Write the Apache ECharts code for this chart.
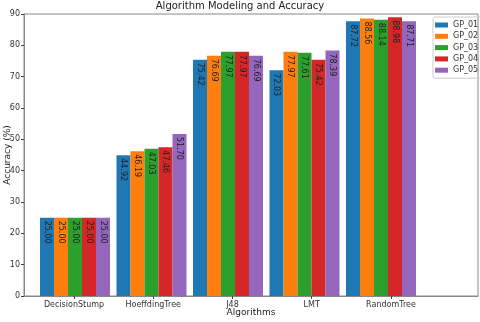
<!DOCTYPE html>
<html>
<head>
<meta charset="utf-8">
<script src="https://cdn.jsdelivr.net/npm/echarts@6/dist/echarts.min.js"></script>
<style>
  html, body { margin: 0; padding: 0; background: #fff; }
  #chart { width: 480px; height: 322px; }
</style>
</head>
<body>
<div id="chart"></div>
<script>
const algorithms = ['DecisionStump', 'HoeffdingTree', 'J48', 'LMT', 'RandomTree']
const gpNames = ['GP_01', 'GP_02', 'GP_03', 'GP_04', 'GP_05']
const gpColors = ['#1f77b4', '#ff7f0e', '#2ca02c', '#d62728', '#9467bd']
// one array per group, values follow algorithms order
const gp01 = [25.00, 44.92, 75.42, 72.03, 87.72]
const gp02 = [25.00, 46.19, 76.69, 77.97, 88.56]
const gp03 = [25.00, 47.03, 77.97, 77.61, 88.14]
const gp04 = [25.00, 47.46, 77.97, 75.42, 88.98]
const gp05 = [25.00, 51.70, 76.69, 78.39, 87.71]
const yTicks = [0, 10, 20, 30, 40, 50, 60, 70, 80, 90]

const font = 'DejaVu Sans'
const groups = [gp01, gp02, gp03, gp04, gp05]

const chart = echarts.init(document.getElementById('chart'))

const series = groups.map((vals, i) => ({
  name: gpNames[i],
  type: 'bar',
  xAxisIndex: 1,
  yAxisIndex: 1,
  barWidth: 14,
  barGap: '0%',
  itemStyle: { color: gpColors[i] },
  label: {
    show: true,
    position: 'insideTop',
    rotate: -90,
    align: 'left',
    verticalAlign: 'middle',
    distance: 3,
    fontSize: 8,
    fontFamily: font,
    color: '#222',
    formatter: p => p.value.toFixed(2)
  },
  data: vals
}))

const option = {
  backgroundColor: '#fff',
  animation: false,
  title: {
    text: 'Algorithm Modeling and Accuracy',
    left: 'center',
    top: 1,
    padding: 0,
    textStyle: { fontSize: 10, fontWeight: 'normal', color: '#222', fontFamily: font }
  },
  legend: {
    data: gpNames,
    orient: 'vertical',
    left: 433,
    top: 17,
    icon: 'rect',
    itemWidth: 13,
    itemHeight: 5,
    itemGap: 1.3,
    padding: [3, 3, 3, 2],
    borderColor: '#ccc',
    borderWidth: 1,
    borderRadius: 2,
    textStyle: { fontSize: 8, lineHeight: 10, color: '#333', fontFamily: font }
  },
  grid: [
    // frame, y axis and x tick labels
    { left: 24, right: 2, top: 14, bottom: 26, containLabel: false, outerBoundsMode: 'none', show: true, borderColor: '#888', borderWidth: 1, backgroundColor: 'transparent' },
    // bars
    { left: 36.75, right: 60.75, top: 14, bottom: 26, containLabel: false, outerBoundsMode: 'none' }
  ],
  xAxis: [
    {
      gridIndex: 0,
      type: 'value',
      min: -0.631,
      max: 5.098,
      name: 'Algorithms',
      nameLocation: 'middle',
      nameGap: 12,
      nameMoveOverlap: false,
      nameTextStyle: { fontSize: 9, color: '#222', fontFamily: font },
      axisLine: { show: true, onZero: false, lineStyle: { color: '#888' } },
      axisTick: { show: true, length: 3, customValues: [0, 1, 2, 3, 4], lineStyle: { color: '#444' } },
      axisLabel: {
        customValues: [0, 1, 2, 3, 4],
        fontSize: 8,
        margin: 5,
        color: '#333',
        fontFamily: font,
        formatter: v => algorithms[Math.round(v)]
      },
      splitLine: { show: false }
    },
    {
      gridIndex: 1,
      type: 'category',
      data: algorithms,
      show: false
    }
  ],
  yAxis: [
    {
      gridIndex: 0,
      type: 'value',
      min: 0,
      max: 90,
      interval: 10,
      name: 'Accuracy (%)',
      nameLocation: 'middle',
      nameGap: 12,
      nameMoveOverlap: false,
      nameTextStyle: { fontSize: 9, color: '#222', fontFamily: font },
      axisLine: { show: true, onZero: false, lineStyle: { color: '#888' } },
      axisTick: { show: true, length: 3, lineStyle: { color: '#444' } },
      axisLabel: { fontSize: 8, margin: 4, color: '#333', fontFamily: font, formatter: v => yTicks.includes(v) ? String(v) : '' },
      splitLine: { show: false }
    },
    {
      gridIndex: 1,
      type: 'value',
      min: 0,
      max: 90,
      show: false
    }
  ],
  series: series
}

chart.setOption(option)
</script>
</body>
</html>
